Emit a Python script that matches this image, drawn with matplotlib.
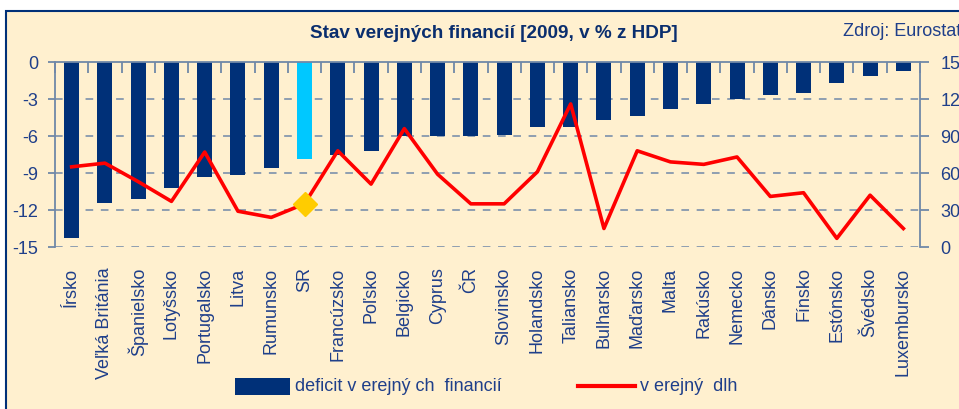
import numpy as np
import matplotlib
matplotlib.use('Agg')
import matplotlib.pyplot as plt
from matplotlib.patches import Rectangle
from matplotlib.lines import Line2D

plt.rcParams['font.family'] = ['Liberation Sans', 'DejaVu Sans']

# dáta (2009, v % z HDP)
krajiny = ['Írsko', 'Veľká Británia', 'Španielsko', 'Lotyšsko', 'Portugalsko',
           'Litva', 'Rumunsko', 'SR', 'Francúzsko', 'Poľsko', 'Belgicko',
           'Cyprus', 'ČR', 'Slovinsko', 'Holandsko', 'Taliansko', 'Bulharsko',
           'Maďarsko', 'Malta', 'Rakúsko', 'Nemecko', 'Dánsko', 'Fínsko',
           'Estónsko', 'Švédsko', 'Luxembursko']
deficit = [-14.3, -11.4, -11.1, -10.2, -9.3, -9.2, -8.6, -7.9, -7.5, -7.2,
           -6.0, -6.0, -6.0, -5.9, -5.3, -5.3, -4.7, -4.4, -3.8, -3.4,
           -3.0, -2.7, -2.5, -1.7, -1.1, -0.7]
dlh = [65, 68, 53, 37, 77, 29, 24, 35, 78, 51, 96, 59, 35, 35, 61, 116,
       15, 78, 69, 67, 73, 41, 44, 7, 42, 15]
lave_ticky = [0, -3, -6, -9, -12, -15]
prave_ticky = [0, 30, 60, 90, 120, 150]

modra = '#003078'
text_farba = '#1F3F8A'
os_farba = '#7088A8'
pozadie = '#FFF0CF'

fig = plt.figure(figsize=(9.59, 4.10), dpi=100)
fig.patch.set_facecolor('white')
# ramček (pod osami)
fig.patches.append(Rectangle((6 / 959, -0.1), 1.2, 1.1 - 12 / 410,
                             transform=fig.transFigure, facecolor=pozadie,
                             edgecolor=modra, linewidth=1.5, zorder=-5))

ax = fig.add_axes([55 / 959, 1 - 248 / 410, 865 / 959, 185 / 410])
ax.set_facecolor('none')
x = np.arange(len(krajiny))
farby = [modra] * len(krajiny)
farby[krajiny.index('SR')] = '#00C8FF'
ax.bar(x, deficit, width=0.45, color=farby, zorder=2)
ax.set_xlim(-0.5, len(krajiny) - 0.5)
ax.set_ylim(-15, 0)
ax.set_yticks(lave_ticky)
ax.set_yticklabels([str(t) for t in lave_ticky])
for t in lave_ticky[1:]:
    ax.axhline(t, color=os_farba, linestyle=(0, (5, 5)), linewidth=1.1, zorder=1)

ax.xaxis.tick_top()
ax.set_xticks(np.arange(len(krajiny) + 1) - 0.5)
ax.set_xticklabels([])
ax.tick_params(axis='x', direction='in', length=8, width=1.3, color=os_farba)
ax.tick_params(axis='y', direction='out', length=5, width=1.3, color=os_farba,
               labelsize=13, labelcolor=text_farba, pad=7)
for s in ['top', 'left', 'right']:
    ax.spines[s].set_color(os_farba)
    ax.spines[s].set_linewidth(1.3)
ax.spines['bottom'].set_visible(False)

for i, k in enumerate(krajiny):
    ax.text(i, -0.105, k, transform=ax.get_xaxis_transform(), rotation=90,
            ha='center', va='top', fontsize=13, color=text_farba)

ax2 = ax.twinx()
ax2.set_ylim(0, 150)
ax2.set_yticks(prave_ticky)
ax2.plot(x, dlh, color='#FF0000', linewidth=2.6, zorder=3)
i_sr = krajiny.index('SR')
ax2.plot(x[i_sr], dlh[i_sr], marker='D', markersize=12.5, color='#FFCC00',
         linestyle='none', zorder=4)
ax2.tick_params(axis='y', direction='out', length=6.5, width=1.3, color=os_farba,
                labelsize=13, labelcolor=text_farba, pad=8)
for s in ax2.spines.values():
    s.set_visible(False)

fig.text(494 / 959, 1 - 33 / 410, 'Stav verejných financií [2009, v % z HDP]',
         ha='center', va='center', fontsize=13.6, fontweight='bold', color='#0A2E6E')
fig.text(843 / 959, 1 - 31 / 410, 'Zdroj: Eurostat', ha='left', va='center',
         fontsize=13, color=text_farba)

# legenda
fig.patches.append(Rectangle((235 / 959, 1 - 396 / 410), 55 / 959, 17 / 410,
                             transform=fig.transFigure, facecolor=modra,
                             edgecolor='none'))
fig.text(295 / 959, 1 - 387 / 410, 'deficit v erejný ch  financií', ha='left',
         va='center', fontsize=13, color=text_farba)
fig.lines.append(Line2D([578 / 959, 635 / 959], [1 - 387 / 410, 1 - 387 / 410],
                        transform=fig.transFigure, color='#FF0000', linewidth=3))
fig.text(640 / 959, 1 - 387 / 410, 'v erejný  dlh', ha='left', va='center',
         fontsize=13, color=text_farba)

fig.savefig('out.png', dpi=100, facecolor=fig.get_facecolor())
